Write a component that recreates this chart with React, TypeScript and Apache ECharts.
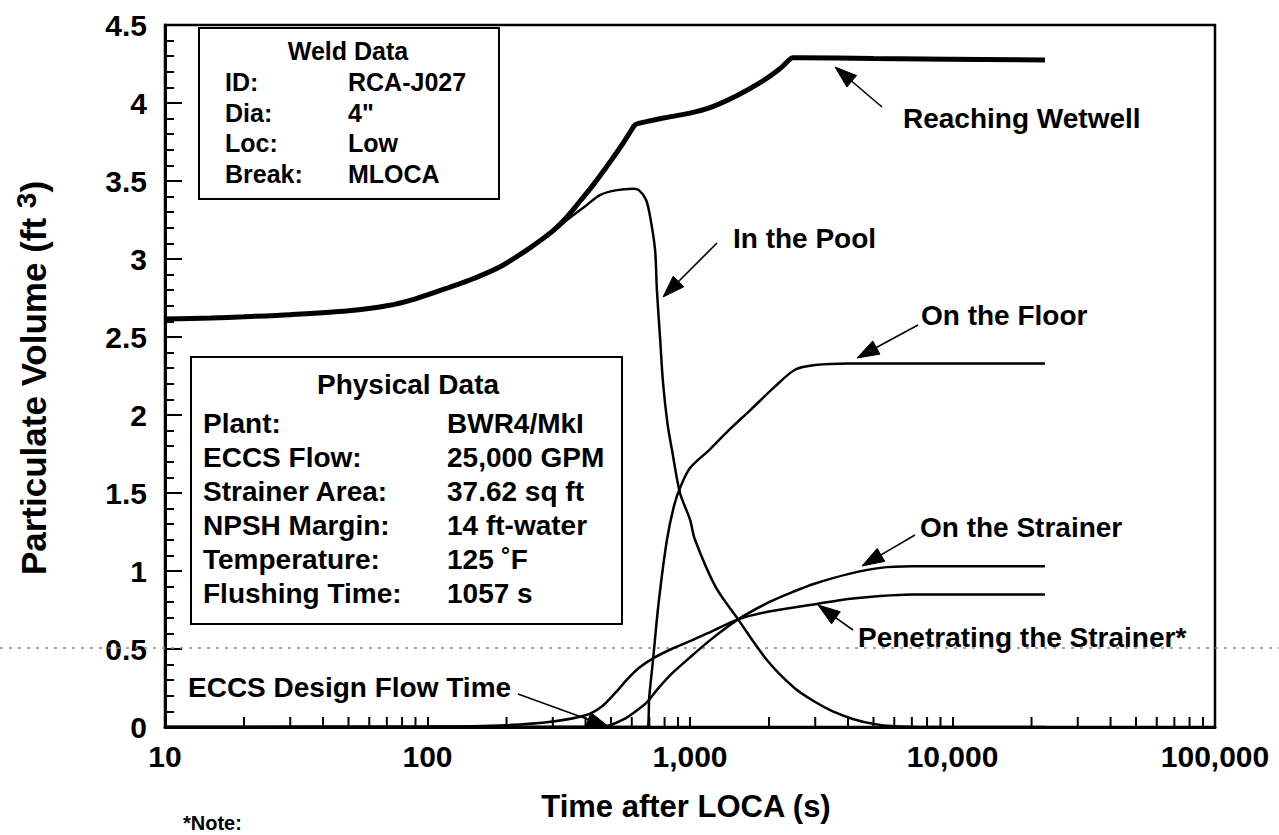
import React, { useEffect, useRef } from 'react';
import * as echarts from 'echarts';

// ---------- data ----------
const xTickLabels = ['10', '100', '1,000', '10,000', '100,000'];
const yTickLabels = ['0', '0.5', '1', '1.5', '2', '2.5', '3', '3.5', '4', '4.5'];
const xMinorTicks = [
  20, 30, 40, 50, 60, 70, 80, 90,
  200, 300, 400, 500, 600, 700, 800, 900,
  2000, 3000, 4000, 5000, 6000, 7000, 8000, 9000,
  20000, 30000, 40000, 50000, 60000, 70000, 80000, 90000,
];

const reachingWetwell: [number, number][] = [
  [10, 2.615], [15, 2.622], [20, 2.63], [30, 2.643], [50, 2.668], [70, 2.7], [90, 2.745],
  [122, 2.82], [150, 2.875], [189, 2.95], [245, 3.07], [300, 3.18], [340, 3.27], [381, 3.37],
  [430, 3.48], [495, 3.62], [560, 3.75], [600, 3.83], [617, 3.86], [640, 3.87], [700, 3.885],
  [800, 3.905], [1000, 3.935], [1191, 3.97], [1500, 4.045], [1849, 4.13], [2200, 4.22],
  [2400, 4.28], [2466, 4.29], [2600, 4.29], [5000, 4.285], [22500, 4.275],
];

const inThePool: [number, number][] = [
  [10, 2.615], [20, 2.63], [30, 2.643], [50, 2.668], [70, 2.7], [90, 2.745], [122, 2.82],
  [150, 2.875], [189, 2.95], [245, 3.07], [300, 3.17], [340, 3.25], [400, 3.34], [454, 3.41],
  [520, 3.44], [607, 3.45], [640, 3.44], [680, 3.38], [705, 3.27], [736, 3.06], [748, 2.8],
  [770, 2.48], [789, 2.21], [820, 1.95], [853, 1.78], [916, 1.5], [1000, 1.33], [1045, 1.2],
  [1250, 0.9], [1525, 0.69], [1963, 0.43], [2500, 0.25], [3000, 0.16], [3500, 0.1],
  [4200, 0.05], [5000, 0.02], [6000, 0.005], [8000, 0], [22500, 0],
];

const onTheFloor: [number, number][] = [
  [10, 0], [685, 0], [700, 0.2], [723, 0.43], [760, 0.8], [817, 1.2], [870, 1.42], [920, 1.54],
  [1000, 1.66], [1191, 1.78], [1400, 1.9], [1694, 2.03], [2100, 2.18], [2512, 2.29],
  [3000, 2.32], [4000, 2.33], [22500, 2.33],
];

const onTheStrainer: [number, number][] = [
  [10, 0], [400, 0], [490, 0.01], [560, 0.05], [620, 0.1], [686, 0.16], [750, 0.24],
  [850, 0.34], [975, 0.43], [1200, 0.56], [1525, 0.69], [2000, 0.8], [2500, 0.87],
  [3000, 0.92], [4000, 0.98], [5300, 1.02], [7000, 1.03], [22500, 1.03],
];

const penetratingStrainer: [number, number][] = [
  [10, 0], [100, 0.003], [200, 0.012], [300, 0.035], [400, 0.075], [460, 0.13], [520, 0.22],
  [580, 0.31], [640, 0.38], [723, 0.44], [850, 0.5], [1000, 0.55], [1200, 0.61], [1525, 0.69],
  [2000, 0.74], [3076, 0.79], [4000, 0.82], [5300, 0.84], [7000, 0.85], [22500, 0.85],
];

const weldLabels = ['ID:', 'Dia:', 'Loc:', 'Break:'];
const weldValues = ['RCA-J027', '4"', 'Low', 'MLOCA'];
const physicalLabels = ['Plant:', 'ECCS Flow:', 'Strainer Area:', 'NPSH Margin:', 'Temperature:', 'Flushing Time:'];
const physicalValues = ['BWR4/MkI', '25,000 GPM', '37.62 sq ft', '14 ft-water', '125 ˚F', '1057 s'];

// ---------- styling ----------
const FONT = '"Liberation Sans", Arial, Helvetica, sans-serif';

function txt(text: string, x: number, y: number, size: number, align = 'left') {
  return {
    type: 'text',
    x,
    y,
    z: 100,
    style: {
      text,
      fill: '#000',
      fontSize: size,
      fontWeight: 'bold',
      fontFamily: FONT,
      align,
      textAlign: align,
      verticalAlign: 'middle',
      textVerticalAlign: 'middle',
    },
  };
}

function arrow(x1: number, y1: number, x2: number, y2: number) {
  const dx = x2 - x1;
  const dy = y2 - y1;
  const len = Math.hypot(dx, dy);
  const ux = dx / len;
  const uy = dy / len;
  const L = 22;
  const W = 7.5;
  const bx = x2 - ux * L;
  const by = y2 - uy * L;
  return [
    {
      type: 'line',
      z: 100,
      shape: { x1, y1, x2: bx, y2: by },
      style: { stroke: '#000', lineWidth: 1.6 },
    },
    {
      type: 'polygon',
      z: 100,
      shape: { points: [[x2, y2], [bx - uy * W, by + ux * W], [bx + uy * W, by - ux * W]] },
      style: { fill: '#000', stroke: '#000', lineWidth: 1 },
    },
  ];
}

function lineSeries(name: string, data: [number, number][], width: number) {
  return {
    name,
    type: 'line',
    data,
    showSymbol: false,
    symbol: 'none',
    smooth: 0.3,
    lineStyle: { color: '#000', width },
    z: 5,
  };
}

export default function App() {
  const ref = useRef<HTMLDivElement>(null);

  useEffect(() => {
    if (!ref.current) return;
    const chart = echarts.init(ref.current, undefined, { renderer: 'svg' });

    const graphics: any[] = [];
    // faint scan artefact line
    graphics.push({
      type: 'line',
      z: 1,
      shape: { x1: 0, y1: 648, x2: 1279, y2: 648 },
      style: { stroke: '#8a8a8a', lineWidth: 1.3, lineDash: [3, 6] },
    });

    // Weld Data box
    graphics.push({
      type: 'rect',
      z: 90,
      shape: { x: 199, y: 28, width: 300, height: 171 },
      style: { fill: '#fff', stroke: '#000', lineWidth: 2 },
    });
    graphics.push(txt('Weld Data', 348, 51, 25, 'center'));
    weldLabels.forEach((l, i) => {
      graphics.push(txt(l, 225, 82 + i * 30.5, 25));
      graphics.push(txt(weldValues[i], 348, 82 + i * 30.5, 25));
    });

    // Physical Data box
    graphics.push({
      type: 'rect',
      z: 90,
      shape: { x: 191, y: 357, width: 431, height: 267 },
      style: { fill: '#fff', stroke: '#000', lineWidth: 2 },
    });
    graphics.push(txt('Physical Data', 408, 384, 28, 'center'));
    physicalLabels.forEach((l, i) => {
      graphics.push(txt(l, 203, 423 + i * 34, 28));
      graphics.push(txt(physicalValues[i], 447, 423 + i * 34, 28));
    });

    // annotations
    graphics.push(txt('Reaching Wetwell', 903, 118, 28));
    graphics.push(...arrow(882, 107, 835, 67));
    graphics.push(txt('In the Pool', 733, 238, 28));
    graphics.push(...arrow(717, 243, 663, 297));
    graphics.push(txt('On the Floor', 921, 315, 28));
    graphics.push(...arrow(918, 325, 857, 358));
    graphics.push(txt('On the Strainer', 920, 527, 28));
    graphics.push(...arrow(915, 535, 862, 566));
    graphics.push(txt('Penetrating the Strainer*', 858, 637, 28));
    graphics.push(...arrow(853, 630, 818, 605));
    graphics.push(txt('ECCS Design Flow Time', 188, 687, 28));
    graphics.push(...arrow(518, 694, 609, 727));

    // axis titles
    graphics.push(txt('Time after LOCA (s)', 686, 806, 31, 'center'));
    graphics.push({
      type: 'text',
      x: 33,
      y: 378,
      rotation: Math.PI / 2,
      z: 100,
      style: {
        text: '{a|Particulate Volume (ft }{b|3}{a|)}',
        fill: '#000',
        align: 'center',
        textAlign: 'center',
        verticalAlign: 'middle',
        textVerticalAlign: 'middle',
        rich: {
          a: { fontSize: 35, fontWeight: 'bold', fontFamily: FONT, fill: '#000', lineHeight: 42 },
          b: { fontSize: 28, fontWeight: 'bold', fontFamily: FONT, fill: '#000', lineHeight: 42, verticalAlign: 'top' },
        },
      },
    });
    graphics.push(txt('*Note:', 183, 823, 20));

    chart.setOption({
      animation: false,
      backgroundColor: '#fff',
      grid: {
        left: 165,
        right: 64,
        top: 25,
        bottom: 108,
        show: true,
        borderColor: '#000',
        borderWidth: 2.5,
        containLabel: false,
      },
      xAxis: {
        type: 'log',
        logBase: 10,
        min: 10,
        max: 100000,
        axisLine: { show: true, lineStyle: { color: '#000', width: 3 } },
        axisTick: { show: true, inside: true, length: 10, lineStyle: { color: '#000', width: 2 } },
        splitLine: { show: false },
        axisLabel: {
          color: '#000',
          fontSize: 30,
          fontWeight: 'bold',
          fontFamily: FONT,
          margin: 14,
          formatter: (v: number) => xTickLabels[Math.round(Math.log10(v)) - 1] ?? '',
        },
      },
      yAxis: {
        type: 'value',
        min: 0,
        max: 4.5,
        interval: 0.5,
        axisLine: { show: true, lineStyle: { color: '#000', width: 3 } },
        axisTick: { show: true, inside: true, length: 17, lineStyle: { color: '#000', width: 2 } },
        minorTick: { show: true, splitNumber: 5, length: 9, lineStyle: { color: '#000', width: 2 } },
        splitLine: { show: false },
        axisLabel: {
          color: '#000',
          fontSize: 30,
          fontWeight: 'bold',
          fontFamily: FONT,
          margin: 18,
          formatter: (v: number) => yTickLabels[Math.round(v / 0.5)] ?? '',
        },
      },
      series: [
        lineSeries('Reaching Wetwell', reachingWetwell, 5),
        lineSeries('In the Pool', inThePool, 2.5),
        lineSeries('On the Floor', onTheFloor, 2.5),
        lineSeries('On the Strainer', onTheStrainer, 2.5),
        lineSeries('Penetrating the Strainer*', penetratingStrainer, 2.5),
        {
          type: 'custom',
          name: 'xMinorTicks',
          data: xMinorTicks.map((v) => [v, 0]),
          clip: false,
          silent: true,
          z: 10,
          renderItem: (_p: any, api: any) => {
            const pt = api.coord([api.value(0), 0]);
            return {
              type: 'line',
              shape: { x1: pt[0], y1: pt[1], x2: pt[0], y2: pt[1] - 10 },
              style: { stroke: '#000', lineWidth: 2 },
            };
          },
        },
      ],
      graphic: graphics,
    });

    return () => {
      chart.dispose();
    };
  }, []);

  return (
    <div
      ref={ref}
      style={{ position: 'fixed', left: 0, top: 0, width: 1279, height: 835, background: '#fff' }}
    />
  );
}
